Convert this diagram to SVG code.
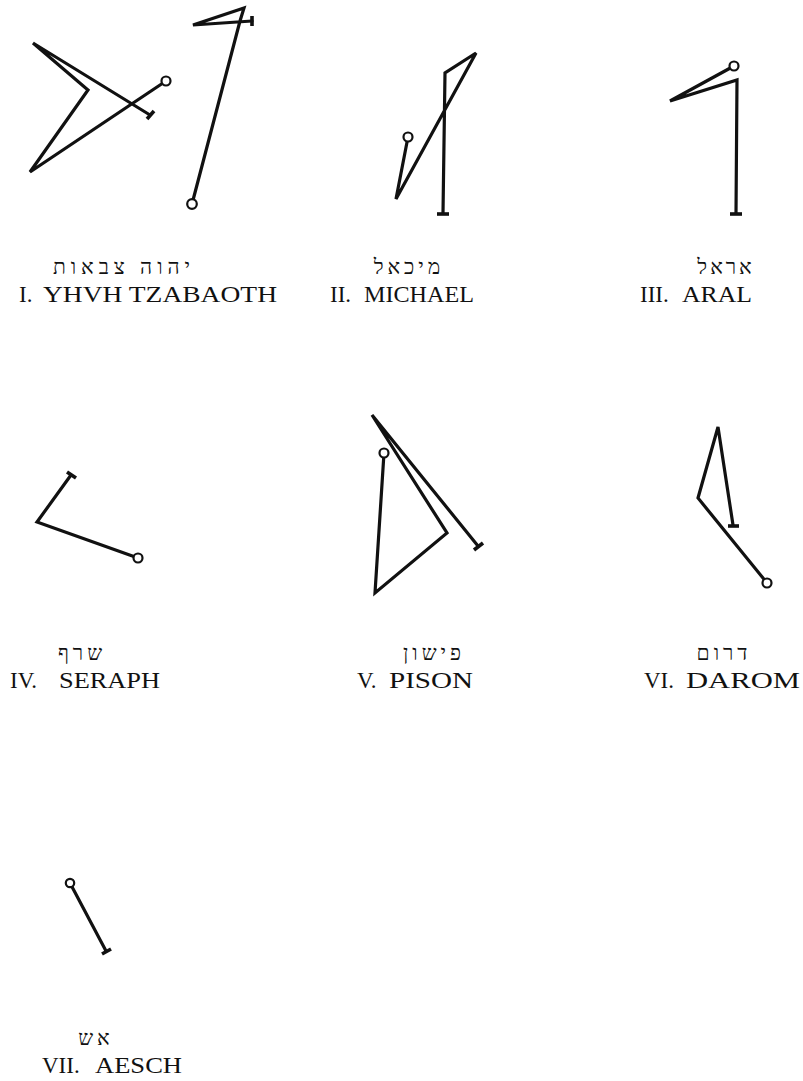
<svg xmlns="http://www.w3.org/2000/svg" width="803" height="1081" viewBox="0 0 803 1081">
<style>
.s{fill:none;stroke:#111;stroke-width:3.2;stroke-linejoin:miter;stroke-linecap:round}
.b{fill:none;stroke:#111;stroke-width:3.6;stroke-linecap:butt}
.c{fill:#fff;stroke:#111;stroke-width:2.2}
.he{font-family:"Liberation Serif","DejaVu Serif",serif;font-size:21px;fill:#111;text-anchor:middle;letter-spacing:4px}
.en{font-family:"Liberation Serif","DejaVu Serif",serif;font-size:23px;fill:#111}
</style>
<rect width="803" height="1081" fill="#fff"/>
<g id="sigils">
<g id="sigil-1">
<polyline class="s" points="166,81 30,172 88,90 33,43 150,115"/>
<line class="b" x1="147" y1="119" x2="154" y2="111"/>
<circle class="c" cx="166" cy="81" r="4.5"/>
<polyline class="s" points="192,204 240,21 244,8 193,25 252,21"/>
<line class="b" x1="252" y1="16" x2="252" y2="26"/>
<circle class="c" cx="192" cy="204" r="4.8"/>
</g>
<g id="sigil-2">
<polyline class="s" points="408,137 396,199 476,53 445,73 443,213"/>
<line class="b" x1="437" y1="214" x2="449" y2="214"/>
<circle class="c" cx="408" cy="137" r="4.5"/>
</g>
<g id="sigil-3">
<polyline class="s" points="734,66 670,101 737,80 736,213"/>
<line class="b" x1="730" y1="214" x2="742" y2="214"/>
<circle class="c" cx="734" cy="66" r="4.5"/>
</g>
<g id="sigil-4">
<polyline class="s" points="71,475 37,522 138,558"/>
<line class="b" x1="67" y1="472" x2="76" y2="478"/>
<circle class="c" cx="138" cy="558" r="4.5"/>
</g>
<g id="sigil-5">
<polyline class="s" points="478,546 372,415 447,533 375,593 384,453"/>
<line class="b" x1="474" y1="550" x2="483" y2="543"/>
<circle class="c" cx="384" cy="453" r="4.5"/>
</g>
<g id="sigil-6">
<polyline class="s" points="733,525 718,427 698,498 767,583"/>
<line class="b" x1="728" y1="526" x2="739" y2="526"/>
<circle class="c" cx="767" cy="583" r="4.5"/>
</g>
<g id="sigil-7">
<line class="s" x1="70" y1="883" x2="106" y2="951"/>
<line class="b" x1="102" y1="954" x2="111" y2="949"/>
<circle class="c" cx="70" cy="883" r="4.2"/>
</g>
</g>
<g id="labels">
<text class="he" x="124" y="274" style="letter-spacing:5px">יהוה צבאות</text>
<text class="en" x="19" y="302">I.</text>
<text class="en" x="43" y="302" textLength="234" lengthAdjust="spacingAndGlyphs">YHVH TZABAOTH</text>
<text class="he" x="409" y="274">מיכאל</text>
<text class="en" x="330" y="302">II.</text>
<text class="en" x="364" y="302" textLength="110" lengthAdjust="spacingAndGlyphs">MICHAEL</text>
<text class="he" x="726" y="274" style="letter-spacing:3px">אראל</text>
<text class="en" x="640" y="302">III.</text>
<text class="en" x="682" y="302" textLength="70" lengthAdjust="spacingAndGlyphs">ARAL</text>
<text class="he" x="82" y="660">שרף</text>
<text class="en" x="10" y="688">IV.</text>
<text class="en" x="59" y="688" textLength="101" lengthAdjust="spacingAndGlyphs">SERAPH</text>
<text class="he" x="434" y="660">פישון</text>
<text class="en" x="357" y="688">V.</text>
<text class="en" x="389" y="688" textLength="84" lengthAdjust="spacingAndGlyphs">PISON</text>
<text class="he" x="724" y="660">דרום</text>
<text class="en" x="644" y="688">VI.</text>
<text class="en" x="686" y="688" textLength="114" lengthAdjust="spacingAndGlyphs">DAROM</text>
<text class="he" x="96" y="1045">אש</text>
<text class="en" x="42" y="1073">VII.</text>
<text class="en" x="95" y="1073" textLength="87" lengthAdjust="spacingAndGlyphs">AESCH</text>
</g>
</svg>
